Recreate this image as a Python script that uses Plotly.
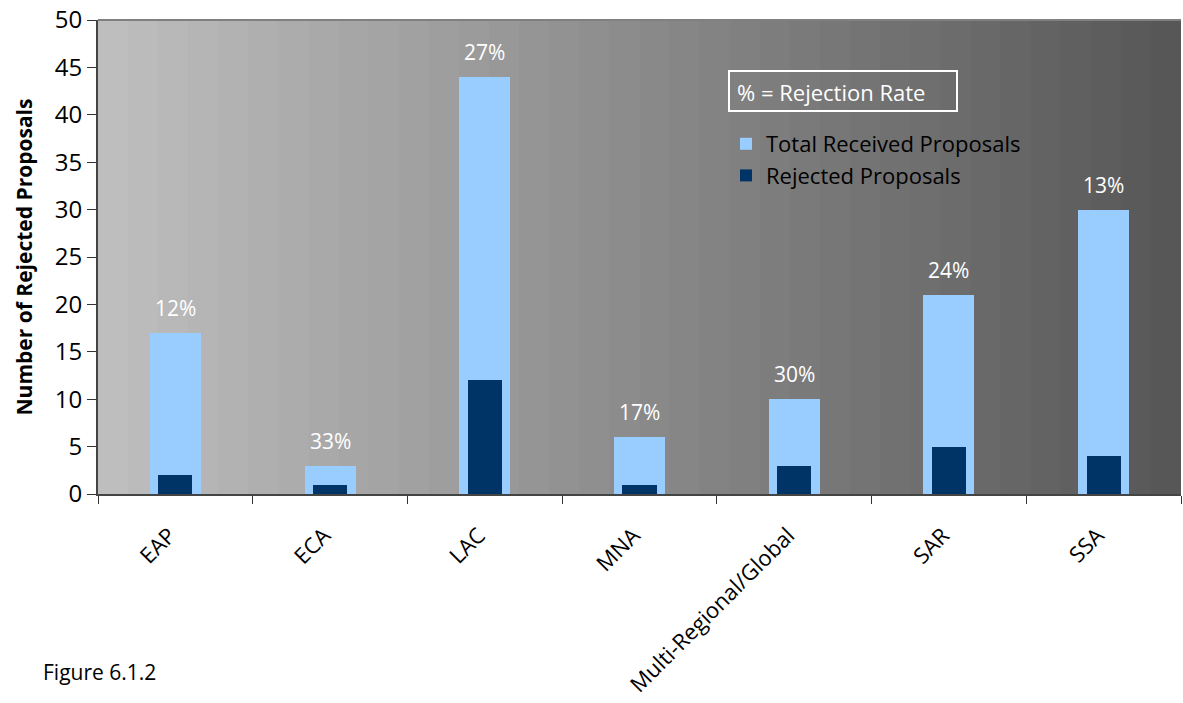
import plotly.graph_objects as go

categories = ["EAP", "ECA", "LAC", "MNA", "Multi-Regional/Global", "SAR", "SSA"]
total_received = [17, 3, 44, 6, 10, 21, 30]
rejected = [2, 1, 12, 1, 3, 5, 4]
rate_labels = ["12%", "33%", "27%", "17%", "30%", "24%", "13%"]
y_ticks = [0, 5, 10, 15, 20, 25, 30, 35, 40, 45, 50]

FONT = "Open Sans"

fig = go.Figure()
fig.add_trace(go.Bar(
    x=categories, y=total_received, name="Total Received Proposals",
    marker=dict(color="#99CCFF", line=dict(width=0)), width=0.33,
))
fig.add_trace(go.Bar(
    x=categories, y=rejected, name="Rejected Proposals",
    marker=dict(color="#003366", line=dict(width=0)), width=0.22,
))

annotations = []
for cat, tot, lab in zip(categories, total_received, rate_labels):
    annotations.append(dict(x=cat, y=tot, xref="x", yref="y", text=lab, showarrow=False,
                            yanchor="bottom", yshift=9,
                            font=dict(color="white", size=21, family=FONT)))

# stepped gradient background
n = 36
shapes = []
for i in range(n):
    f = i / (n - 1)
    c = int(round(190 - f * (190 - 87)))
    shapes.append(dict(type="rect", xref="x domain", yref="y domain",
                       x0=i / n, x1=min(1, (i + 1) / n + 0.003), y0=0, y1=1,
                       fillcolor=f"rgb({c},{c},{c})", line=dict(width=0), layer="below"))
# top border
shapes.append(dict(type="line", xref="x domain", yref="y domain", x0=0, x1=1, y0=1, y1=1,
                   line=dict(color="#808080", width=2)))
# rejection-rate box
shapes.append(dict(type="rect", xref="paper", yref="paper",
                   x0=(729 - 98) / 1083, x1=(957 - 98) / 1083,
                   y0=(494 - 111) / 474, y1=(494 - 71) / 474,
                   line=dict(color="white", width=2), fillcolor="rgba(0,0,0,0)"))

annotations += [
    dict(text="% = Rejection Rate", xref="paper", yref="paper",
         x=(735 - 98) / 1083, y=(494 - 92) / 474, xanchor="left", yanchor="middle",
         showarrow=False, font=dict(size=22, color="white", family=FONT)),
    dict(text="Figure 6.1.2", xref="paper", yref="paper",
         x=-57 / 1083, y=-(672 - 494) / 474, xanchor="left", yanchor="middle",
         showarrow=False, font=dict(size=21, color="black", family=FONT)),
]

fig.update_layout(
    width=1183, height=703,
    margin=dict(l=98, r=2, t=20, b=209),
    paper_bgcolor="white", plot_bgcolor="rgba(0,0,0,0)",
    barmode="overlay", bargap=0,
    font=dict(family=FONT, color="black"),
    shapes=shapes,
    annotations=annotations,
    showlegend=True,
    legend=dict(x=(726 - 98) / 1083, y=(494 - 123) / 474, xanchor="left", yanchor="top",
                bgcolor="rgba(0,0,0,0)", font=dict(size=22, color="black", family=FONT),
                tracegroupgap=0, itemsizing="constant", itemwidth=30),
)
fig.update_xaxes(
    type="category", tickangle=-45, tickson="boundaries",
    ticks="outside", ticklen=8, tickcolor="#333", showline=True, linecolor="#444", linewidth=2,
    tickfont=dict(size=22, family=FONT, color="black"), showgrid=False,
    ticklabelstandoff=18, ticklabelshift=-6,
)
fig.update_yaxes(
    range=[0, 50], tickvals=y_ticks, ticks="outside", ticklen=9, tickcolor="#333",
    showline=True, linecolor="#444", linewidth=2, showgrid=False, zeroline=False,
    tickfont=dict(size=24, family=FONT, color="black"),
    title=dict(text="<b>Number of Rejected Proposals</b>", font=dict(size=21, family=FONT), standoff=16),
)
fig.write_html("out.html")
